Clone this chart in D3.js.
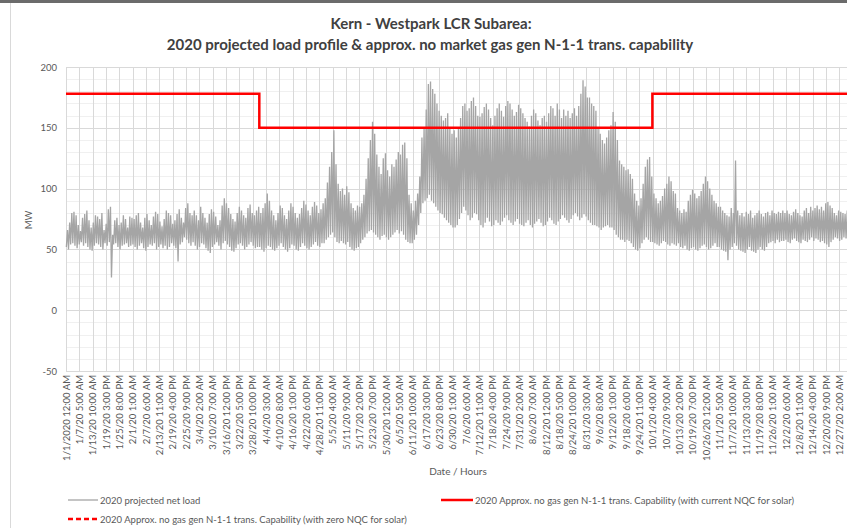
<!DOCTYPE html>
<html>
<head>
<meta charset="utf-8">
<script src="https://cdn.jsdelivr.net/npm/d3@7"></script>
<style>
  body { margin: 0; background: #ffffff; }
  text { font-family: Lato, "Open Sans", sans-serif; }
</style>
</head>
<body>
<script>
// daily low / high of the projected net load (MW), one value per day
var janMax = [66,72,80,81,78,70,65,76,79,82,74,68,72,78,77,75,80,66,71,83,85,62,74,76,70,72,78,75,68,77,76];
var janMin = [52,50,54,55,53,51,54,56,53,55,52,50,49,53,55,54,52,50,55,53,56,27,54,55,52,50,53,54,55,52,53];
var febMax = [75,78,80,72,68,76,79,74,70,77,81,79,73,69,75,82,80,78,71,74,79,83,76,72,84,88,80,78];
var febMin = [54,52,50,53,55,51,49,52,54,53,55,50,52,54,51,53,50,52,55,53,51,40,54,56,60,58,55,53];
var marMax = [82,78,74,85,80,76,72,79,83,81,77,70,74,86,92,88,84,79,75,73,80,85,82,78,76,84,87,80,78,82,85];
var marMin = [56,53,50,52,55,54,51,49,47,52,54,56,53,50,55,57,54,52,49,48,51,54,55,53,50,52,54,56,53,51,52];
var aprMax = [80,84,88,96,90,82,78,74,80,86,84,78,75,82,88,85,80,76,79,84,90,87,82,78,85,89,86,80,83,88];
var aprMin = [52,50,48,51,53,52,50,49,51,53,55,52,50,48,51,54,53,50,49,52,55,53,51,50,52,54,56,53,52,55];
var mayMax = [92,105,118,130,148,120,104,98,100,95,102,97,88,84,82,86,85,88,95,108,125,140,155,145,128,118,112,125,129,115,110];
var mayMin = [55,58,60,62,64,60,56,55,57,55,54,56,52,50,49,51,52,55,58,60,63,65,66,64,62,60,58,61,62,60,58];
var junMax = [120,118,124,130,128,136,138,125,95,88,82,90,96,110,142,150,165,186,188,182,178,170,164,160,156,158,162,150,145,148];
var junMin = [60,62,64,66,63,65,62,58,56,55,55,58,62,70,80,88,90,92,95,90,88,85,82,80,79,76,74,72,70,68];
var julMax = [142,150,158,168,170,164,166,172,175,168,160,159,162,167,170,165,158,152,160,166,170,164,159,168,172,170,165,160,163,169,166];
var julMin = [68,70,75,80,85,82,78,74,76,80,79,74,70,68,72,76,73,69,70,74,72,70,73,76,78,74,72,70,73,75,71];
var augMax = [162,158,155,151,160,165,162,156,152,158,160,155,162,168,166,160,170,165,158,165,160,164,158,162,166,160,168,178,189,184,175];
var augMin = [70,69,72,74,70,68,71,73,75,72,69,70,73,76,74,71,70,73,75,78,76,74,72,75,78,80,77,74,76,79,77];
var sepMax = [175,170,168,164,150,145,140,137,142,148,152,163,155,140,123,120,118,115,116,112,108,96,90,86,92,104,118,124,126,110];
var sepMin = [74,72,70,70,69,68,66,68,69,70,68,68,66,62,60,58,58,56,58,57,55,52,50,49,51,55,58,60,58,56];
var octMax = [96,92,88,90,94,100,104,110,106,98,96,84,82,80,83,81,90,95,99,96,92,94,98,104,110,106,100,95,90,88,85];
var octMin = [56,55,54,53,55,57,56,54,53,55,54,53,55,52,51,53,50,49,51,52,50,49,51,53,54,52,50,51,53,55,52];
var novMax = [85,82,80,78,77,84,80,123,82,78,80,77,81,79,82,76,78,80,82,79,77,80,81,78,82,80,79,81,80,82];
var novMin = [52,50,49,48,41,50,52,55,53,50,49,48,47,50,52,49,48,47,50,52,50,49,52,55,56,57,55,58,56,57];
var decMax = [80,82,79,78,81,83,80,78,77,82,84,80,85,82,84,86,83,85,82,88,89,86,84,80,78,82,81,80,79,82,80];
var decMin = [57,58,56,55,58,59,57,56,55,58,57,56,58,60,57,59,58,56,57,55,54,52,56,58,60,59,57,58,60,59,60];

// N-1-1 capability (MW) by period, in day-of-year
var capStartDay = [0, 90, 273];
var capEndDay = [90, 273, 365];
var capValue = [178, 150, 178];

var tickLabels = ["1/1/2020 12:00 AM","1/7/20 5:00 AM","1/13/20 10:00 AM","1/19/20 3:00 PM","1/25/20 8:00 PM",
  "2/1/20 1:00 AM","2/7/20 6:00 AM","2/13/20 11:00 AM","2/19/20 4:00 PM","2/25/20 9:00 PM",
  "3/4/20 2:00 AM","3/10/20 7:00 AM","3/16/20 12:00 PM","3/22/20 5:00 PM","3/28/20 10:00 PM",
  "4/4/20 3:00 AM","4/10/20 8:00 AM","4/16/20 1:00 PM","4/22/20 6:00 PM","4/28/20 11:00 PM",
  "5/5/20 4:00 AM","5/11/20 9:00 AM","5/17/20 2:00 PM","5/23/20 7:00 PM","5/30/20 12:00 AM",
  "6/5/20 5:00 AM","6/11/20 10:00 AM","6/17/20 3:00 PM","6/23/20 8:00 PM","6/30/20 1:00 AM",
  "7/6/20 6:00 AM","7/12/20 11:00 AM","7/18/20 4:00 PM","7/24/20 9:00 PM","7/31/20 2:00 AM",
  "8/6/20 7:00 AM","8/12/20 12:00 PM","8/18/20 5:00 PM","8/24/20 10:00 PM","8/31/20 3:00 AM",
  "9/6/20 8:00 AM","9/12/20 1:00 PM","9/18/20 6:00 PM","9/24/20 11:00 PM",
  "10/1/20 4:00 AM","10/7/20 9:00 AM","10/13/20 2:00 PM","10/19/20 7:00 PM","10/26/20 12:00 AM",
  "11/1/20 5:00 AM","11/7/20 10:00 AM","11/13/20 3:00 PM","11/19/20 8:00 PM","11/26/20 1:00 AM",
  "12/2/20 6:00 AM","12/8/20 11:00 AM","12/14/20 4:00 PM","12/20/20 9:00 PM","12/27/20 2:00 AM"];
var TICK_STEP = 149; // hours between labels
var yTicks = [-50, 0, 50, 100, 150, 200];

var dailyMax = [].concat(janMax, febMax, marMax, aprMax, mayMax, junMax, julMax, augMax, sepMax, octMax, novMax, decMax);
var dailyMin = [].concat(janMin, febMin, marMin, aprMin, mayMin, junMin, julMin, augMin, sepMin, octMin, novMin, decMin);

var W = 847, H = 528;
var plot = { left: 66, right: 850, top: 67, bottom: 371 };

var svg = d3.select("body").append("svg")
    .attr("width", W)
    .attr("height", H);

// sheet frame bits
svg.append("rect").attr("x", 0).attr("y", 0).attr("width", W).attr("height", 3).attr("fill", "#6b6b6b");
svg.append("line").attr("x1", 10.5).attr("x2", 10.5).attr("y1", 3).attr("y2", H)
    .attr("stroke", "#d9d9d9");

var x = d3.scaleLinear().domain([0, 8760]).range([plot.left, plot.right]);
var y = d3.scaleLinear().domain([-50, 200]).range([plot.bottom, plot.top]);

// minor gridlines
svg.append("g").selectAll("line")
    .data(d3.range(-50, 201, 10).filter(function(v) { return v % 50 !== 0; }))
    .enter().append("line")
    .attr("x1", plot.left).attr("x2", plot.right)
    .attr("y1", function(d) { return Math.round(y(d)) + 0.5; })
    .attr("y2", function(d) { return Math.round(y(d)) + 0.5; })
    .attr("stroke", "#f0f0f0");

// major gridlines
svg.append("g").selectAll("line")
    .data(yTicks)
    .enter().append("line")
    .attr("x1", plot.left).attr("x2", plot.right)
    .attr("y1", function(d) { return Math.round(y(d)) + 0.5; })
    .attr("y2", function(d) { return Math.round(y(d)) + 0.5; })
    .attr("stroke", "#d9d9d9");

svg.append("g").selectAll("line")
    .data(tickLabels)
    .enter().append("line")
    .attr("x1", function(d, i) { return Math.round(x(i * TICK_STEP)) + 0.5; })
    .attr("x2", function(d, i) { return Math.round(x(i * TICK_STEP)) + 0.5; })
    .attr("y1", plot.top).attr("y2", plot.bottom)
    .attr("stroke", "#d9d9d9");

// y axis labels
svg.append("g").selectAll("text")
    .data(yTicks)
    .enter().append("text")
    .attr("x", 57)
    .attr("y", function(d) { return y(d) + 3.5; })
    .attr("text-anchor", "end")
    .attr("font-size", 9.5)
    .attr("fill", "#595959")
    .text(function(d) { return d; });

svg.append("text")
    .attr("transform", "translate(32,220) rotate(-90)")
    .attr("text-anchor", "middle")
    .attr("font-size", 9.5)
    .attr("fill", "#595959")
    .text("MW");

// x labels
svg.append("g").selectAll("text")
    .data(tickLabels)
    .enter().append("text")
    .attr("transform", function(d, i) {
      return "translate(" + (x(i * TICK_STEP) + 3.5) + "," + (plot.bottom + 4) + ") rotate(-90)";
    })
    .attr("text-anchor", "end")
    .attr("font-size", 9.5)
    .attr("fill", "#595959")
    .text(function(d) { return d; });

svg.append("text")
    .attr("x", 458).attr("y", 475)
    .attr("text-anchor", "middle")
    .attr("font-size", 10)
    .attr("fill", "#595959")
    .text("Date / Hours");

// net load: daily low in the early morning, high in the afternoon
var loadPts = [];
dailyMax.forEach(function(mx, i) {
  loadPts.push([i * 24 + 4, dailyMin[i]]);
  loadPts.push([i * 24 + 17, mx]);
});

svg.append("path")
    .datum(loadPts)
    .attr("fill", "none")
    .attr("stroke", "#a5a5a5")
    .attr("stroke-width", 1.3)
    .attr("d", d3.line()
      .x(function(d) { return x(d[0]); })
      .y(function(d) { return y(d[1]); }));

// capability step line
var capPts = [];
capValue.forEach(function(v, i) {
  capPts.push([capStartDay[i] * 24, v]);
  capPts.push([capEndDay[i] * 24, v]);
});

svg.append("path")
    .datum(capPts)
    .attr("fill", "none")
    .attr("stroke", "#ff0000")
    .attr("stroke-width", 2.5)
    .attr("d", d3.line()
      .x(function(d) { return x(d[0]); })
      .y(function(d) { return y(d[1]); }));

// title
var title = svg.append("text")
    .attr("text-anchor", "middle")
    .attr("font-size", 15)
    .attr("font-weight", "bold")
    .attr("fill", "#404040");
title.append("tspan").attr("x", 431).attr("y", 29).text("Kern - Westpark LCR Subarea:");
title.append("tspan").attr("x", 430).attr("y", 50)
    .text("2020 projected load profile & approx. no market gas gen N-1-1 trans. capability");

// legend
var legend = [
  { x: 68, y: 500, len: 30, color: "#a5a5a5", w: 1.3, dash: null, label: "2020 projected net load" },
  { x: 441, y: 500, len: 32, color: "#ff0000", w: 2.5, dash: null, label: "2020 Approx. no gas gen N-1-1 trans. Capability (with current NQC for solar)" },
  { x: 68, y: 519, len: 30, color: "#ff0000", w: 2.5, dash: "5,3", label: "2020 Approx. no gas gen N-1-1 trans. Capability (with zero NQC for solar)" }
];
var lg = svg.append("g").selectAll("g").data(legend).enter().append("g");
lg.append("line")
    .attr("x1", function(d) { return d.x; })
    .attr("x2", function(d) { return d.x + d.len; })
    .attr("y1", function(d) { return d.y; })
    .attr("y2", function(d) { return d.y; })
    .attr("stroke", function(d) { return d.color; })
    .attr("stroke-width", function(d) { return d.w; })
    .attr("stroke-dasharray", function(d) { return d.dash; });
lg.append("text")
    .attr("x", function(d) { return d.x + d.len + 2; })
    .attr("y", function(d) { return d.y + 3.5; })
    .attr("font-size", 9.5)
    .attr("fill", "#595959")
    .text(function(d) { return d.label; });
</script>
</body>
</html>
